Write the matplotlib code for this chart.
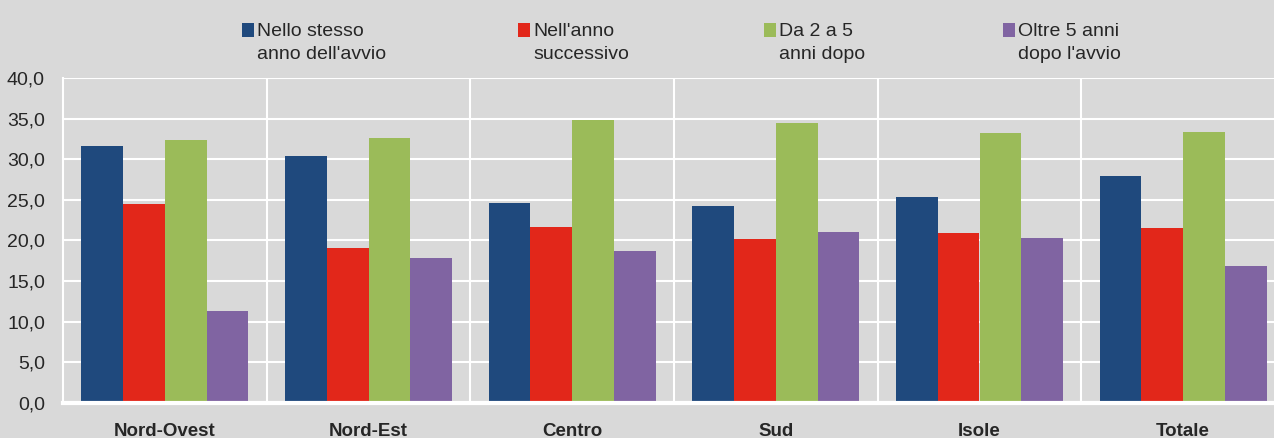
import matplotlib
matplotlib.use("Agg")
import matplotlib.pyplot as plt
from matplotlib.patches import Rectangle
import numpy as np

plt.rcParams['font.family'] = ['Liberation Sans Narrow', 'Liberation Sans', 'DejaVu Sans']

regions = ["Nord-Ovest", "Nord-Est", "Centro", "Sud", "Isole", "Totale"]
series_names = ["Nello stesso\nanno dell'avvio", "Nell'anno\nsuccessivo",
                "Da 2 a 5\nanni dopo", "Oltre 5 anni\ndopo l'avvio"]
stesso_anno = [31.6, 30.4, 24.6, 24.2, 25.4, 27.9]
anno_succ = [24.5, 19.1, 21.7, 20.2, 20.9, 21.5]
da_2_a_5 = [32.4, 32.6, 34.8, 34.5, 33.2, 33.4]
oltre_5 = [11.3, 17.8, 18.7, 21.0, 20.3, 16.9]
series = [stesso_anno, anno_succ, da_2_a_5, oltre_5]
colors = ["#1F497D", "#E2271A", "#9BBB59", "#8064A2"]
bg = "#D9D9D9"
txt = "#262626"

W, H = 1274, 438
fig = plt.figure(figsize=(W / 100, H / 100), dpi=100, facecolor=bg)
ax = fig.add_axes([63 / W, 1 - 403 / H, (1285 - 63) / W, (403 - 78) / H])
ax.set_facecolor(bg)

x = np.arange(len(regions))
bw = 0.205
for i, (vals, c) in enumerate(zip(series, colors)):
    ax.bar(x + (i - 1.5) * bw, vals, width=bw, color=c, zorder=3, linewidth=0)

ax.set_xlim(-0.5, len(regions) - 0.5)
ax.set_ylim(0, 40)
ax.set_yticks(np.arange(0, 41, 5))
ax.set_yticklabels([f"{v:.1f}".replace(".", ",") for v in np.arange(0, 41, 5)])
ax.set_xticks(x)
ax.set_xticklabels(regions, fontweight="bold")
ax.set_xticks(np.arange(0.5, len(regions) - 0.5, 1), minor=True)

ax.tick_params(axis="y", length=0, pad=13, labelsize=14, labelcolor=txt)
ax.tick_params(axis="x", which="major", length=0, pad=14.5, labelsize=13.5, labelcolor=txt)
ax.tick_params(axis="x", which="minor", length=0)
ax.grid(axis="y", color="white", linewidth=1.5, zorder=1)
ax.grid(axis="x", which="minor", color="white", linewidth=1.5, zorder=1)

for s in ["top", "right"]:
    ax.spines[s].set_visible(False)
ax.spines["left"].set_color("white")
ax.spines["left"].set_linewidth(1.5)
ax.spines["bottom"].set_color("white")
ax.spines["bottom"].set_linewidth(3)
ax.spines["bottom"].set_zorder(4)

# legend drawn by hand so the swatch sits on the first text line
leg_x = [242, 518, 764, 1003]
for lx, name, c in zip(leg_x, series_names, colors):
    fig.add_artist(Rectangle((lx / W, 1 - 37 / H), 12 / W, 14 / H,
                             transform=fig.transFigure, color=c, linewidth=0))
    fig.text((lx + 15) / W, 1 - 23 / H, name, ha="left", va="top",
             fontsize=14, color=txt, linespacing=1.45)

fig.savefig("out.png", dpi=100, facecolor=bg)
